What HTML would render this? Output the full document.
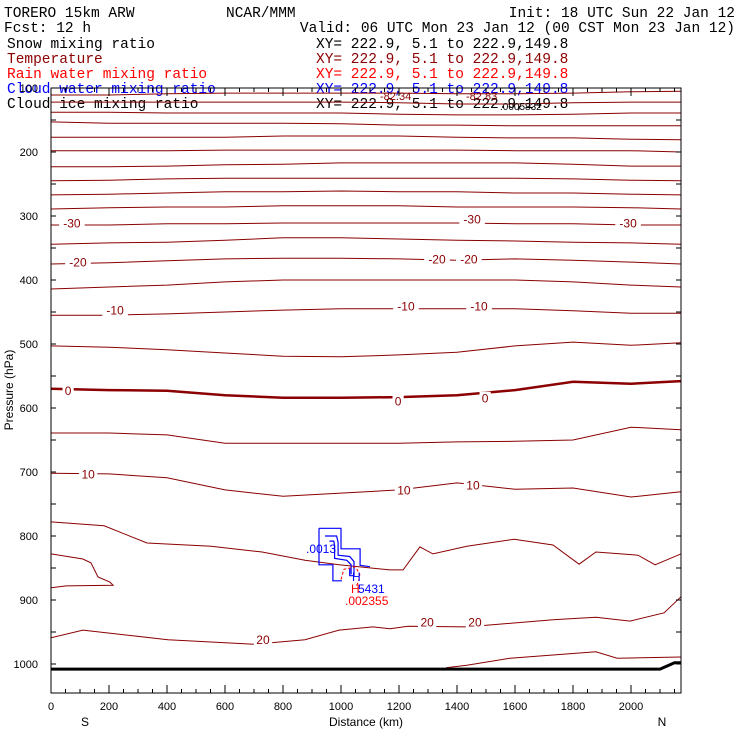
<!DOCTYPE html>
<html><head><meta charset="utf-8"><style>
body{margin:0;background:#fff;width:740px;height:740px;overflow:hidden}
svg{display:block}
text{font-family:"Liberation Mono",monospace}
.sans{font-family:"Liberation Sans",sans-serif}
</style></head><body>
<svg id="chart" width="740" height="740" viewBox="0 0 740 740" xmlns="http://www.w3.org/2000/svg">
<g font-size="14.5">
<text x="4" y="17">TORERO  15km ARW</text>
<text x="226" y="17">NCAR/MMM</text>
<text x="735" y="17" text-anchor="end">Init: 18 UTC Sun 22 Jan 12</text>
<text x="4" y="32">Fcst:   12 h</text>
<text x="735" y="32" text-anchor="end">Valid: 06 UTC Mon 23 Jan 12 (00 CST Mon 23 Jan 12)</text>
<text x="7" y="48">Snow mixing ratio</text>
<text x="316" y="48">XY= 222.9,  5.1 to 222.9,149.8</text>
<text x="7" y="63" fill="#8b0000">Temperature</text>
<text x="316" y="63" fill="#8b0000">XY= 222.9,  5.1 to 222.9,149.8</text>
<text x="7" y="78" fill="#ff0000">Rain water mixing ratio</text>
<text x="316" y="78" fill="#ff0000">XY= 222.9,  5.1 to 222.9,149.8</text>
<text x="7" y="93" fill="#0000ff">Cloud water mixing ratio</text>
<text x="316" y="93" fill="#0000ff">XY= 222.9,  5.1 to 222.9,149.8</text>
<text x="7" y="108">Cloud ice mixing ratio</text>
<text x="316" y="108">XY= 222.9,  5.1 to 222.9,149.8</text>
</g>
<g id="plot"></g>
</svg>
<script>
const gridDist=[0,200,400,600,800,1000,1200,1400,1600,1800,2000,2172];
const tempLines=[
[111,111,109,108,108,108,108,109,109,108,106,105],
[122,122,122,122,122,122,123,125,125,123,122,122],
[138,138,139,139,139,139,141,142,142,141,139,139],
[153,155,155,155,155,156,158,158,159,159,159,159],
[177,177,177,177,175,175,175,177,178,178,180,181],
[198,198,198,197,197,197,197,197,198,198,198,200],
[223,223,222,220,219,217,217,217,217,219,222,222],
[245,244,242,241,241,241,241,241,241,242,244,245],
[267,266,264,262,262,261,262,262,264,264,266,267],
[289,287,286,286,284,284,284,286,286,286,287,289],
[314,314,312,312,311,311,311,311,312,312,314,314],
[344,342,341,338,334,334,336,338,339,341,342,344],
[375,373,370,367,366,366,367,369,367,369,372,375],
[414,411,408,403,400,400,400,400,400,403,408,411],
[455,455,453,450,447,445,445,445,445,448,452,452],
[503,505,509,514,519,520,517,513,503,497,502,498],
[570,572,573,580,584,584,583,580,572,559,562,558],
[639,639,642,655,655,655,655,653,652,650,630,634],
[702,703,709,728,738,733,728,717,727,725,739,731]];
const zeroLineIndex=16;
const l20Dist=[0,183,331,552,728,876,993,1169,1214,1272,1317,1434,1597,1731,1821,1879,2024,2083,2172];
const l20Pres=[778,784,811,816,825,838,845,853,853,817,828,816,805,814,844,825,830,845,828];
const l21Dist=[0,110,138,162,203,214,52,0];
const l21Pres=[828,836,842,864,872,877,878,881];
const l22Dist=[0,110,403,700,876,993,1110,1169,1231,1434,1731,1879,1997,2114,2172];
const l22Pres=[959,947,962,969,962,947,942,945,941,942,931,927,933,920,895];
const l23Dist=[1362,1434,1583,1731,1879,1952,2172];
const l23Pres=[1006,1002,991,986,981,991,989];
const groundDist=[0,2100,2150,2172];
const groundPres=[1008,1008,998,998];
const cwDistA=[924,1000,1000,1066,1066,1100];
const cwPresA=[788,788,820,820,846,848];
const cwDistB=[924,924,972,972,1003];
const cwPresB=[788,845,845,870,870];
const cwDistC=[945,985,990,990,1030,1045,1045,1030,1030];
const cwPresC=[800,800,810,830,832,840,862,862,850];
const cwDistD=[960,975,978,978,1020,1035,1035];
const cwPresD=[808,808,815,835,838,845,860];
const rainDist=[1000,1010,1050,1065,1060,1050];
const rainPres=[868,852,848,860,872,880];
const tempLabels=["-30","-30","-30","-20","-20","-20","-10","-10","-10","0","0","0","10","10","10","20","20","20"];
const labelDist=[72,1452,1990,93,1331,1441,221,1224,1476,59,1197,1497,128,1217,1455,731,1297,1462];
const labelPres=[311,305,311,372,367,367,447,441,441,573,589,584,703,728,720,962,934,934];
const xTicks=[0,200,400,600,800,1000,1200,1400,1600,1800,2000];
const yTicks=[100,200,300,400,500,600,700,800,900,1000];

const L=51,R=681,T=88,B=693;
const X=d=>L+d*0.29;
const Y=p=>T+(p-100)*0.64;
const NS="http://www.w3.org/2000/svg";
const plot=document.getElementById('plot');
function mk(tag,attrs,parent){const e=document.createElementNS(NS,tag);for(const k in attrs)e.setAttribute(k,attrs[k]);(parent||plot).appendChild(e);return e;}
function pts(ds,ps){return ds.map((d,i)=>X(d).toFixed(1)+','+Y(ps[i]).toFixed(1)).join(' ');}

const clip=mk('clipPath',{id:'pc'});mk('rect',{x:L,y:T,width:R-L,height:B-T},clip);
const g=mk('g',{'clip-path':'url(#pc)'});


tempLines.forEach((ps,i)=>{
 const e=mk('polyline',{points:pts(gridDist,ps),fill:'none',stroke:'#8b0000','stroke-width':i===zeroLineIndex?2.5:1},g);
 
 
});
[[l20Dist,l20Pres],[l21Dist,l21Pres],[l22Dist,l22Pres],[l23Dist,l23Pres]].forEach(a=>{
 const e=mk('polyline',{points:pts(a[0],a[1]),fill:'none',stroke:'#8b0000','stroke-width':1},g);
 
 
});
const gr=mk('polyline',{points:pts(groundDist,groundPres),fill:'none',stroke:'#000','stroke-width':3},g);


[[cwDistA,cwPresA],[cwDistB,cwPresB],[cwDistC,cwPresC],[cwDistD,cwPresD]].forEach(a=>{
 const e=mk('polyline',{points:pts(a[0],a[1]),fill:'none',stroke:'#0000ff','stroke-width':1.2},g);
 
 
});
const rn=mk('polyline',{points:pts(rainDist,rainPres),fill:'none',stroke:'#ff0000','stroke-width':1,'stroke-dasharray':'3,2'},g);


tempLabels.forEach((t,i)=>{
 const x=X(labelDist[i]),y=Y(labelPres[i]);
 const w=t.length*7.2+4;
 const bg=mk('rect',{x:x-w/2,y:y-6,width:w,height:12,fill:'#fff'},g);
 
 
 const e=mk('text',{x:x,y:y+4.5,'text-anchor':'middle','font-size':12,fill:'#8b0000',class:'sans'},g);
 e.textContent=t;
 
 
});
function txt(s,x,y,fill,size,name,anchor){const e=mk('text',{x:x,y:y,fill:fill,'font-size':size,'text-anchor':anchor||'start',class:'sans'});e.textContent=s;
 
 
 return e;}
txt('.0013',306,553,'#0000ff',12,'cloud-water-max-label');
txt('H',352,581,'#0000ff',12,'cloud-water-high-marker');
txt('H',351,593,'#ff0000',12,'rain-high-marker');
txt('5431',358,593,'#0000ff',12,'cloud-water-value');
txt('.002355',345,605,'#ff0000',12,'rain-value');
txt('-82.34',380,100,'#8b0000',11,'top-temp-label-1');
txt('-82.83',466,100,'#8b0000',11,'top-temp-label-2');
txt('.0005832',500,110,'#000',10,'cloud-ice-value');

const fr=mk('rect',{x:L,y:T,width:R-L,height:B-T,fill:'none',stroke:'#000','stroke-width':1});


for(let d=0;d<=2150;d+=50){const maj=d%200===0;const len=maj?8:4;
 const a=mk('line',{x1:X(d),x2:X(d),y1:B,y2:B-len,stroke:'#000'});
 
 
 const b=mk('line',{x1:X(d),x2:X(d),y1:T,y2:T+len,stroke:'#000'});
 
 
}
for(let p=100;p<=1040;p+=50){
 const a=mk('line',{x1:L,x2:L+5,y1:Y(p),y2:Y(p),stroke:'#000'});
 
 
 const b=mk('line',{x1:R,x2:R-5,y1:Y(p),y2:Y(p),stroke:'#000'});
 
 
}
xTicks.forEach(v=>{txt(String(v),X(v),710,'#000',11,'x-tick-label','middle');});
yTicks.forEach(v=>{txt(String(v),38,Y(v)+4,'#000',11,'y-tick-label','end');});
txt('Distance (km)',366,726,'#000',12,'x-axis-title','middle');
txt('S',85,726,'#000',12,'south-label','middle');
txt('N',662,726,'#000',12,'north-label','middle');
const yt=txt('Pressure (hPa)',0,0,'#000',12,'y-axis-title','middle');
yt.setAttribute('transform','translate(13,390) rotate(-90)');
</script>
</body></html>
